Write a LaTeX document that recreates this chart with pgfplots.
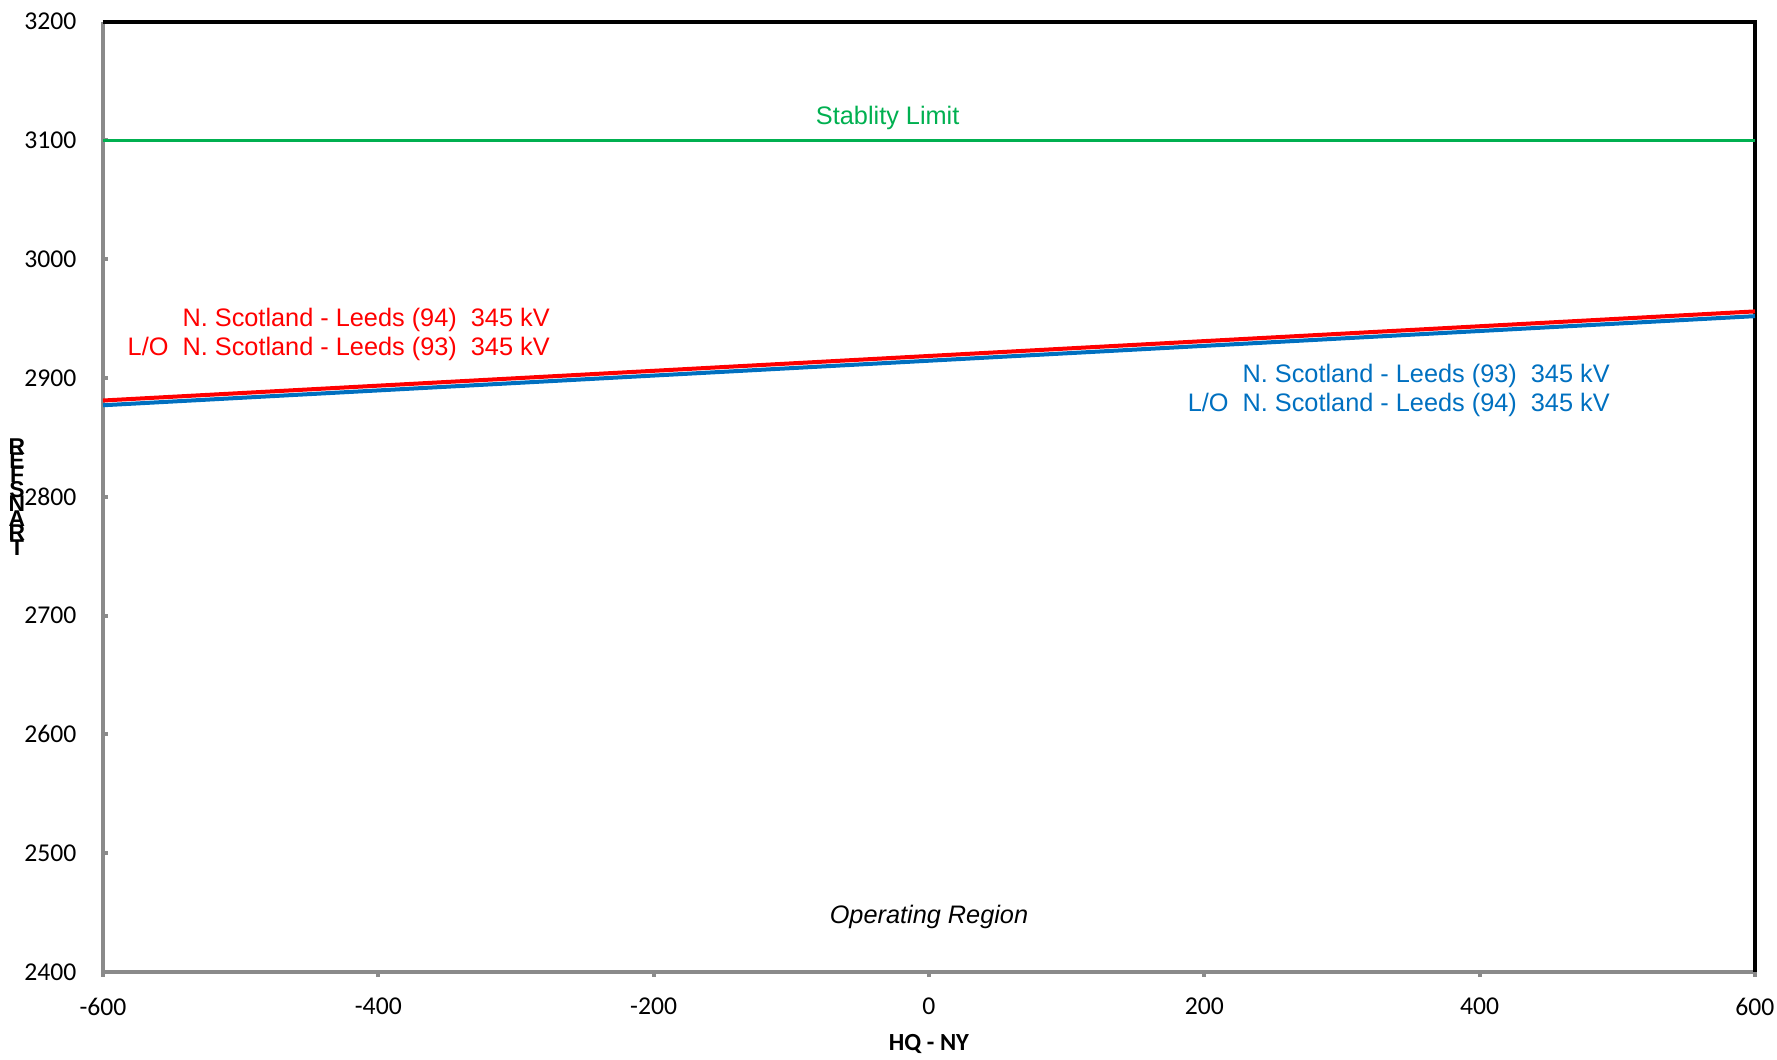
\documentclass[border=0pt]{standalone}
\usepackage{pgfplots}
\pgfplotsset{compat=1.18}
\usepackage{fontspec}
\setmainfont{Liberation Sans}
\newfontfamily\calibri{Carlito}
\definecolor{cred}{HTML}{FF0000}
\definecolor{cblue}{HTML}{0070C0}
\definecolor{cgreen}{HTML}{00B050}
\definecolor{cgray}{HTML}{8A8A8A}
\newcommand\stackfont{\bfseries\fontsize{6.5}{4.1}\selectfont\lineskiplimit=-20pt\relax\lineskip=0pt\relax}
\begin{document}
\begin{tikzpicture}
\begin{axis}[
  scale only axis,
  width=165.2mm, height=95.05mm,
  xmin=-600, xmax=600, ymin=2400, ymax=3200,
  xtick={-600,-400,...,600},
  ytick={2400,2500,...,3200},
  axis line style={draw=none},
  xtick align=outside, ytick align=inside,
  xtick pos=bottom, ytick pos=left,
  major tick length=0.5mm,
  tick style={draw=cgray, line width=0.4mm},
  /pgf/number format/assume math mode=true,
  /pgf/number format/set thousands separator={},
  ticklabel style={font=\calibri\fontsize{7.3}{8.5}\selectfont, inner sep=0pt},
  yticklabel style={anchor=east, xshift=-2.6mm},
  xticklabel style={anchor=north, yshift=-2.0mm},
  clip=false,
]
% frame
\draw[cgray, line width=0.42mm] (axis cs:-600,3200) -- (axis cs:-600,2400) -- (axis cs:600,2400);
\draw[black, line width=0.4mm] (axis cs:-600,3200) -- (axis cs:600,3200) -- (axis cs:600,2400);
% series
\addplot[cgreen, line width=0.33mm] coordinates {(-600,3100) (600,3100)};
\addplot[cblue, line width=0.4mm] coordinates {(-600,2877) (600,2952)};
\addplot[cred, line width=0.4mm] coordinates {(-600,2881) (600,2956)};
% annotations
\begin{scope}[every node/.style={inner sep=0pt, font=\fontsize{7.2}{8.6}\selectfont}]
\node[cgreen] at (axis cs:-30,3118.5) {Stablity Limit};
\node[cred, anchor=east] at (axis cs:-275,2948.5) {N. Scotland - Leeds (94)\ \ 345 kV};
\node[cred, anchor=east] at (axis cs:-275,2924.7) {L/O\ \ N. Scotland - Leeds (93)\ \ 345 kV};
\node[cblue, anchor=east] at (axis cs:495,2901.8) {N. Scotland - Leeds (93)\ \ 345 kV};
\node[cblue, anchor=east] at (axis cs:495,2877) {L/O\ \ N. Scotland - Leeds (94)\ \ 345 kV};
\node[black, font=\fontsize{7.2}{8.6}\selectfont\itshape] at (axis cs:0,2446) {Operating Region};
\end{scope}
% axis labels
\node[font=\calibri\bfseries\fontsize{7}{8.4}\selectfont] at ([yshift=-7.2mm]rel axis cs:0.5,0) {HQ - NY};
\node[font=\stackfont, align=center, inner sep=0pt] at ([xshift=-8.6mm]rel axis cs:0,0.5) {R\\E\\F\\S\\N\\A\\R\\T};
\end{axis}
\pgfresetboundingbox
\path[use as bounding box] (-10.3mm,-8.8mm) rectangle (167.4mm,97.2mm);
\end{tikzpicture}
\end{document}
